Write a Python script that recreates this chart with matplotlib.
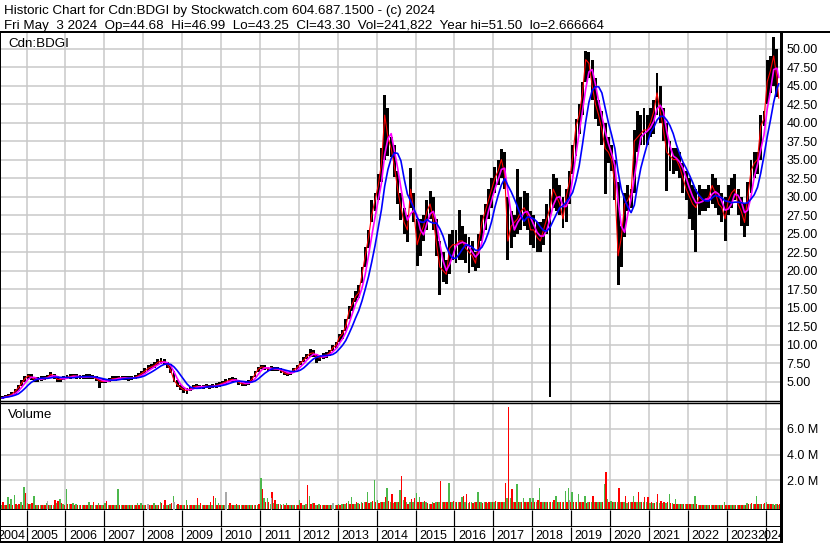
import matplotlib
matplotlib.use("Agg")
import matplotlib.pyplot as plt
from matplotlib.lines import Line2D
import numpy as np
import pandas as pd

plt.rcParams['font.family'] = ['Liberation Sans', 'DejaVu Sans']

title1 = "Historic Chart for Cdn:BDGI by Stockwatch.com 604.687.1500 - (c) 2024"
title2 = ("Fri May  3 2024  Op=44.68  Hi=46.99  Lo=43.25  Cl=43.30  "
          "Vol=241,822  Year hi=51.50  lo=2.666664")
symbol = "Cdn:BDGI"

# monthly bars, May 2004 .. May 2024 (last month only to May 3)
months = pd.period_range("2004-05", "2024-05", freq="M")
last_day = 3

high = [
    3.0, 3.2, 3.3, 3.6, 4.0, 4.6, 5.2, 5.8,                          # 2004
    6.1, 6.0, 5.6, 5.6, 5.7, 5.8, 5.9, 6.3, 6.1, 5.7, 5.6, 5.8,      # 2005
    5.9, 6.0, 6.1, 6.0, 5.9, 5.9, 6.0, 6.0, 5.9, 5.7, 5.4, 5.3,      # 2006
    5.4, 5.5, 5.7, 5.7, 5.8, 5.8, 5.8, 5.7, 5.8, 5.9, 6.2, 6.5,      # 2007
    6.8, 7.2, 7.4, 7.6, 8.0, 8.15, 8.0, 7.7, 7.4, 6.5, 5.2, 4.6,     # 2008
    4.3, 4.2, 4.3, 4.6, 4.7, 4.6, 4.6, 4.7, 4.6, 4.7, 4.8, 4.9,      # 2009
    5.1, 5.3, 5.5, 5.6, 5.5, 5.2, 5.0, 5.0, 5.2, 5.7, 6.4, 7.0,      # 2010
    7.3, 7.2, 7.0, 7.1, 7.0, 7.0, 6.8, 6.6, 6.3, 6.5, 6.9, 7.3,      # 2011
    7.8, 8.3, 8.8, 9.4, 9.3, 8.8, 8.6, 8.9, 9.0, 9.3, 10.0, 10.4,    # 2012
    11.5, 12.0, 13.5, 15.2, 16.3, 17.2, 18.0, 20.5, 23.2, 25.5, 29.5, 30.5,  # 2013
    33.0, 36.5, 43.7, 42.0, 38.0, 37.0, 33.5, 30.5, 28.5, 27.5, 33.9, 30.5,  # 2014
    27.0, 27.0, 27.5, 29.5, 30.7, 30.0, 27.0, 24.0, 22.5, 21.5, 25.0, 25.5,  # 2015
    25.5, 28.2, 26.0, 25.0, 24.5, 24.0, 22.5, 25.0, 27.5, 29.0, 31.0, 32.5,  # 2016
    34.0, 35.0, 36.4, 36.0, 30.0, 28.0, 27.5, 33.7, 30.0, 30.7, 30.5, 28.0,  # 2017
    27.5, 26.5, 26.5, 27.0, 29.0, 31.0, 33.0, 32.5, 31.5, 30.0, 31.0, 33.5,  # 2018
    37.0, 40.5, 42.5, 45.5, 49.7, 49.5, 48.5, 46.0, 43.0, 41.5, 40.0, 38.0,  # 2019
    37.0, 35.0, 32.0, 26.0, 30.5, 31.5, 31.0, 39.0, 41.5, 41.0, 42.0, 41.0,  # 2020
    42.0, 43.0, 46.7, 45.0, 42.0, 40.0, 37.5, 36.5, 36.5, 36.0, 34.5, 33.5,  # 2021
    32.5, 31.5, 31.0, 31.5, 31.0, 31.0, 31.5, 33.0, 32.5, 31.5, 30.5, 30.0,  # 2022
    31.5, 32.5, 33.0, 31.0, 30.0, 29.0, 32.0, 35.0, 36.0, 36.0, 41.0, 41.5,  # 2023
    48.5, 49.0, 51.5, 50.0, 46.99,                                            # 2024
]
low = [
    2.67, 2.8, 2.9, 3.1, 3.4, 3.8, 4.4, 5.0,
    5.4, 5.2, 5.0, 5.0, 5.1, 5.2, 5.3, 5.6, 5.4, 5.0, 5.0, 5.2,
    5.3, 5.4, 5.5, 5.4, 5.3, 5.3, 5.4, 5.4, 5.3, 5.1, 4.2, 4.8,
    4.8, 4.9, 5.1, 5.1, 5.2, 5.2, 5.2, 5.1, 5.2, 5.3, 5.5, 5.8,
    6.0, 6.4, 6.7, 6.9, 7.2, 7.4, 7.2, 6.9, 6.2, 4.9, 4.3, 3.9,
    3.5, 3.4, 3.7, 4.0, 4.1, 4.0, 4.0, 4.1, 4.0, 4.1, 4.2, 4.3,
    4.5, 4.7, 4.9, 5.0, 4.9, 4.6, 4.4, 4.4, 4.6, 5.0, 5.6, 6.3,
    6.7, 6.6, 6.4, 6.5, 6.4, 6.4, 6.2, 5.9, 5.8, 5.9, 6.3, 6.6,
    7.2, 7.6, 8.0, 8.4, 8.4, 7.5, 7.8, 8.1, 8.2, 8.5, 9.2, 9.5,
    10.3, 10.8, 11.8, 13.5, 14.5, 15.7, 16.3, 18.3, 20.5, 23.0, 26.5, 28.0,
    29.5, 32.0, 35.0, 35.5, 35.4, 32.7, 29.0, 26.8, 25.0, 23.8, 28.5, 26.5,
    20.6, 22.0, 24.0, 25.5, 27.0, 25.5, 22.0, 16.7, 18.5, 18.2, 19.5, 21.5,
    21.0, 21.5, 21.5, 21.0, 19.7, 20.5, 20.0, 20.3, 24.0, 25.5, 27.0, 28.5,
    30.5, 31.5, 32.5, 31.0, 21.5, 23.0, 24.5, 25.0, 25.5, 26.0, 25.5, 23.5,
    23.0, 22.5, 22.5, 23.5, 25.0, 2.9, 28.5, 28.0, 27.5, 25.8, 26.5, 29.0,
    33.0, 35.5, 38.5, 41.0, 45.5, 46.0, 43.0, 40.5, 39.5, 37.0, 30.3, 34.5,
    33.5, 29.5, 18.1, 20.5, 24.5, 28.0, 28.5, 30.5, 36.0, 37.0, 37.0, 37.0,
    38.0, 38.5, 41.0, 40.0, 37.5, 30.7, 33.5, 33.0, 33.5, 32.5, 30.5, 29.5,
    27.0, 25.5, 22.5, 27.5, 28.0, 28.0, 28.5, 29.0, 28.5, 27.5, 26.5, 24.0,
    27.5, 28.5, 29.5, 27.5, 26.0, 24.6, 26.0, 30.5, 32.5, 33.0, 35.0, 39.5,
    42.5, 44.0, 45.0, 43.5, 43.25,
]
close = [
    2.8, 3.0, 3.1, 3.3, 3.7, 4.2, 4.8, 5.4,
    5.8, 5.6, 5.3, 5.3, 5.4, 5.5, 5.6, 6.0, 5.8, 5.3, 5.3, 5.5,
    5.6, 5.7, 5.8, 5.7, 5.6, 5.6, 5.7, 5.7, 5.6, 5.4, 5.1, 5.0,
    5.1, 5.2, 5.4, 5.4, 5.5, 5.5, 5.5, 5.4, 5.5, 5.6, 5.8, 6.1,
    6.4, 6.8, 7.0, 7.2, 7.6, 7.8, 7.6, 7.3, 6.5, 5.2, 4.6, 4.2,
    3.9, 3.8, 4.0, 4.3, 4.4, 4.3, 4.3, 4.4, 4.3, 4.4, 4.5, 4.6,
    4.8, 5.0, 5.2, 5.3, 5.2, 4.9, 4.7, 4.7, 4.9, 5.3, 6.0, 6.7,
    7.0, 6.9, 6.7, 6.8, 6.7, 6.7, 6.5, 6.2, 6.0, 6.2, 6.6, 6.9,
    7.5, 7.9, 8.4, 8.8, 8.9, 8.3, 8.2, 8.5, 8.6, 8.9, 9.6, 9.9,
    11.0, 11.5, 12.5, 14.5, 15.5, 16.5, 17.0, 19.5, 22.0, 24.5, 27.5, 29.5,
    31.5, 34.5, 41.0, 38.0, 36.5, 34.0, 31.0, 28.5, 26.5, 25.5, 31.0, 28.0,
    23.5, 25.0, 26.0, 28.0, 29.0, 27.0, 23.5, 20.5, 20.0, 19.5, 23.0, 23.5,
    23.5, 24.0, 24.0, 23.0, 22.5, 22.0, 21.0, 24.0, 26.5, 28.0, 29.5, 31.0,
    32.5, 33.5, 35.0, 33.0, 24.0, 26.0, 26.5, 27.0, 28.0, 28.5, 27.5, 25.5,
    25.5, 24.5, 24.0, 25.5, 27.0, 28.5, 31.0, 30.0, 29.0, 27.0, 30.0, 32.0,
    35.5, 39.5, 41.0, 44.0, 48.5, 48.0, 45.0, 42.5, 41.0, 39.0, 36.5, 36.0,
    35.0, 31.5, 22.0, 24.5, 29.0, 29.5, 30.5, 37.5, 38.0, 38.5, 39.0, 39.0,
    40.0, 41.5, 44.0, 41.5, 39.0, 36.0, 35.5, 35.0, 35.0, 34.0, 32.5, 31.0,
    30.0, 29.0, 28.5, 30.0, 29.5, 29.5, 30.0, 31.5, 30.5, 29.0, 28.5, 27.0,
    29.5, 30.5, 31.0, 29.0, 28.0, 26.5, 30.0, 33.5, 34.5, 35.0, 39.5, 40.5,
    45.5, 47.0, 49.0, 46.0, 43.3,
]

# volume in millions, up-day (green) and down-day (red) parts per month
vol_up = [
    0.05, 0.05, 0.68, 0.52, 0.86, 0.10, 0.34, 1.47,
    0.21, 0.20, 0.78, 0.10, 0.08, 0.10, 0.26, 0.10, 0.12, 0.26, 0.52, 0.15,
    1.33, 0.20, 0.26, 0.15, 0.10, 0.10, 0.08, 0.34, 0.10, 0.12, 0.21, 0.10,
    0.26, 0.12, 0.10, 0.10, 1.33, 0.08, 0.08, 0.06, 0.08, 0.10, 0.26, 0.21,
    0.12, 0.10, 0.12, 0.26, 0.10, 0.34, 0.12, 0.10, 0.16, 0.78, 0.10, 0.12,
    0.10, 0.47, 0.10, 0.12, 0.10, 0.10, 0.10, 0.10, 0.10, 0.12, 0.60, 0.26,
    0.10, 0.10, 0.12, 0.08, 0.08, 0.06, 0.08, 0.06, 0.06, 0.08, 0.10, 0.12,
    2.17, 0.60, 0.60, 0.20, 0.25, 0.15, 0.16, 0.15, 0.21, 0.10, 0.08, 0.10,
    0.47, 0.10, 0.15, 0.78, 0.26, 0.10, 0.16, 0.08, 0.08, 0.10, 0.12, 0.08,
    0.15, 0.20, 0.20, 0.37, 0.73, 0.20, 0.25, 0.29, 0.30, 1.06, 0.30, 2.02,
    0.47, 0.35, 0.30, 1.42, 0.30, 0.26, 0.30, 1.25, 0.47, 0.30, 0.30, 0.35,
    0.99, 0.68, 0.30, 0.30, 0.15, 0.29, 0.30, 0.30, 0.34, 0.30, 1.76, 0.30,
    0.30, 0.30, 0.73, 0.30, 0.25, 0.34, 0.30, 1.06, 0.30, 0.30, 0.26, 0.30,
    0.30, 0.30, 0.35, 0.35, 0.60, 0.60, 0.30, 1.71, 0.35, 0.60, 0.35, 0.65,
    0.60, 0.30, 1.40, 0.30, 0.30, 0.30, 0.30, 0.78, 0.30, 0.34, 1.17, 1.40,
    1.06, 0.30, 0.94, 0.30, 0.78, 0.30, 0.30, 0.30, 0.30, 0.30, 1.71, 0.52,
    0.42, 0.30, 0.30, 0.30, 0.30, 0.26, 0.30, 0.81, 0.30, 0.30, 0.30, 0.30,
    0.25, 0.25, 0.30, 0.25, 0.25, 0.25, 0.96, 0.25, 0.52, 0.20, 0.13, 0.13,
    0.16, 0.15, 0.78, 0.10, 0.08, 0.06, 0.06, 0.05, 0.06, 0.08, 0.08, 0.29,
    0.08, 0.06, 0.06, 0.08, 0.08, 0.10, 0.26, 0.15, 0.15, 0.78, 0.20, 0.20,
    0.34, 0.20, 0.20, 0.15, 0.05,
]
vol_dn = [
    0.34, 0.10, 0.15, 0.10, 0.20, 0.16, 0.10, 1.02,
    0.20, 0.21, 0.10, 0.08, 0.10, 0.05, 0.10, 0.10, 0.47, 0.42, 0.26, 0.10,
    0.15, 0.18, 0.10, 0.10, 0.08, 0.10, 0.10, 0.10, 0.34, 0.10, 0.10, 0.10,
    0.42, 0.10, 0.10, 0.08, 0.10, 0.06, 0.08, 0.08, 0.06, 0.08, 0.10, 0.10,
    0.10, 0.10, 0.10, 0.10, 0.10, 0.26, 0.47, 0.10, 0.21, 0.20, 0.16, 0.10,
    0.12, 0.10, 0.10, 0.10, 0.60, 0.21, 0.10, 0.10, 0.34, 0.78, 0.10, 0.10,
    0.10, 0.10, 0.26, 0.08, 0.16, 0.08, 0.06, 0.10, 0.06, 0.08, 0.08, 0.16,
    1.33, 0.34, 0.30, 1.10, 0.47, 0.15, 0.10, 0.10, 0.10, 0.10, 0.08, 0.10,
    0.21, 0.10, 1.60, 0.20, 0.26, 0.10, 0.10, 0.08, 0.08, 0.10, 0.10, 0.12,
    0.10, 0.20, 0.26, 0.20, 0.20, 0.34, 0.20, 0.25, 0.30, 0.25, 0.42, 0.30,
    0.21, 0.30, 0.68, 0.40, 0.90, 0.30, 0.35, 2.36, 0.73, 0.20, 0.52, 0.65,
    0.30, 0.30, 0.42, 0.25, 0.15, 0.25, 0.30, 1.92, 0.30, 0.30, 0.30, 0.42,
    0.34, 0.30, 0.81, 0.91, 0.30, 0.25, 0.30, 0.30, 0.26, 0.30, 0.30, 0.30,
    0.42, 0.30, 0.30, 1.76, 7.70, 1.33, 0.30, 0.30, 0.30, 0.34, 0.30, 0.34,
    0.30, 0.47, 0.30, 0.30, 0.34, 0.30, 0.47, 0.30, 0.30, 0.30, 0.30, 0.30,
    0.34, 0.30, 0.30, 0.30, 0.26, 0.30, 0.78, 0.30, 0.30, 0.30, 2.64, 0.30,
    0.30, 0.30, 1.40, 0.30, 0.81, 0.30, 0.30, 0.30, 1.06, 0.30, 0.73, 0.73,
    0.30, 0.25, 0.90, 0.37, 0.30, 0.34, 0.25, 0.20, 0.20, 0.20, 0.16, 0.15,
    0.15, 0.15, 0.15, 0.08, 0.08, 0.06, 0.06, 0.05, 0.08, 0.06, 0.08, 0.08,
    0.08, 0.06, 0.06, 0.10, 0.08, 0.12, 0.15, 0.26, 0.15, 0.15, 0.15, 0.21,
    0.20, 0.20, 0.05, 0.20, 0.16,
]
# unchanged-close volume (grey)
flat_months = ["2005-07", "2008-02", "2008-10", "2010-02", "2011-04", "2012-11", "2018-12"]
flat_vol = [0.37, 0.16, 0.34, 1.06, 0.60, 0.21, 0.47]

price_ticks = np.arange(5, 50.01, 2.5)
vol_ticks = [2, 4, 6]
years = list(range(2004, 2025))

# ---------------- layout (pixel based) ----------------
W, H = 830, 543
PX = 0.72  # points per pixel at 100 dpi
fig = plt.figure(figsize=(W / 100, H / 100), dpi=100)
fig.patch.set_facecolor('white')

def box(x0, y0, x1, y1):
    return [x0 / W, 1 - y1 / H, (x1 - x0) / W, (y1 - y0) / H]

t_left = 2005 + (0 - 26.5) / 38.9
t_right = 2005 + (781 - 26.5) / 38.9
grid_c = '#c8c8c8'
fs = 9
fs_head = 9.6

t = np.array([p.year + (p.month - 0.5) / 12 for p in months])
t[-1] = months[-1].year + (months[-1].month - 1 + 0.5 * last_day / 31) / 12
w = np.full(len(t), 0.9 / 12)
w[-1] = last_day / 31 / 12

hi = np.array(high)
lo = np.array(low)
cl = pd.Series(close)

# ---------------- price panel ----------------
ax = fig.add_axes(box(0, 32, 781, 401))
ax.set_xlim(t_left, t_right)
ax.set_ylim((418.7 - 401) / 7.404, (418.7 - 32) / 7.404)
ax.set_axisbelow(True)
ax.grid(True, color=grid_c, lw=1.5 * PX)
ax.set_xticks(years[1:])
ax.set_xticklabels([])
ax.yaxis.tick_right()
ax.set_yticks(price_ticks)
ax.set_yticklabels([f"{v:.2f}" for v in price_ticks])
ax.tick_params(axis='both', length=0, labelsize=fs, pad=4)

ax.bar(t, hi - lo, bottom=lo, width=w, color='black', linewidth=0, zorder=2)
ax.plot(t, cl, color='red', lw=0.8, zorder=3)
ax.plot(t, cl.rolling(3, min_periods=1).mean(), color='#ff00ff', lw=1.2, zorder=4)
ax.plot(t, cl.rolling(6, min_periods=1).mean(), color='#0000ff', lw=1.2, zorder=5)

for s in ax.spines.values():
    s.set_color('black')
ax.spines['top'].set_visible(False)
ax.spines['left'].set_linewidth(2 * PX)
ax.spines['right'].set_linewidth(3 * PX)
ax.spines['bottom'].set_linewidth(1.4 * PX)

fig.text(8 / W, 1 - 47 / H, symbol, fontsize=fs_head)

# ---------------- volume panel ----------------
av = fig.add_axes(box(0, 403, 781, 510))
vbase = -(510 - 506.1) / 12.9
av.set_xlim(t_left, t_right)
av.set_ylim(vbase, (506.1 - 403) / 12.9)
av.set_axisbelow(True)
av.grid(True, color=grid_c, lw=1.5 * PX)
av.set_xticks(years[1:])
av.set_xticklabels([])
av.yaxis.tick_right()
av.set_yticks(vol_ticks)
av.set_yticklabels([f"{v:.1f} M" for v in vol_ticks])
av.tick_params(axis='both', length=0, labelsize=fs, pad=4)

dw = 0.45 / 12
up = np.array(vol_up)
dn = np.array(vol_dn)
av.bar(t - dw / 2, up - vbase, bottom=vbase, width=dw, color='#4cb84c', linewidth=0, zorder=2)
av.bar(t + dw / 2, dn - vbase, bottom=vbase, width=dw, color='#ff0000', linewidth=0, zorder=2)
fi = [months.get_loc(pd.Period(m, freq='M')) for m in flat_months]
av.bar(t[fi], np.array(flat_vol) - vbase, bottom=vbase, width=dw, color='#a9a9a9',
       linewidth=0, zorder=3)

for s in av.spines.values():
    s.set_color('black')
av.spines['top'].set_linewidth(1.4 * PX)
av.spines['left'].set_linewidth(2 * PX)
av.spines['right'].set_linewidth(3 * PX)
av.spines['bottom'].set_linewidth(2 * PX)
fig.text(8 / W, 1 - 418 / H, "Volume", fontsize=fs_head)

# ---------------- year rows ----------------
for (y0, y1) in [(510, 527), (527, 542)]:
    ar = fig.add_axes(box(0, y0, 781, y1))
    ar.set_xlim(t_left, t_right)
    ar.set_ylim(0, 1)
    ar.set_xticks([])
    ar.set_yticks([])
    ar.vlines(years[1:], 0, 1, color='black', lw=1.2 * PX)
    for s in ar.spines.values():
        s.set_color('black')
    ar.spines['top'].set_visible(False)
    ar.spines['left'].set_linewidth(2 * PX)
    ar.spines['right'].set_linewidth(3 * PX)
    ar.spines['bottom'].set_linewidth(2 * PX)
    if y0 == 527:
        for yr in years:
            a = max(yr, t_left)
            b = min(yr + 1, t_right)
            ar.text((a + b) / 2 - 0.05, 0.2, str(yr), ha='center', va='baseline',
                    fontsize=fs, clip_on=True)

# ---------------- header ----------------
fig.add_artist(Line2D([0, 1], [1 - 32 / H] * 2, color='black', lw=2 * PX,
                      transform=fig.transFigure))
fig.text(4 / W, 1 - 14 / H, title1, fontsize=fs_head)
fig.text(4 / W, 1 - 28.5 / H, title2, fontsize=fs_head)

fig.savefig("out.png", dpi=100, facecolor='white')
